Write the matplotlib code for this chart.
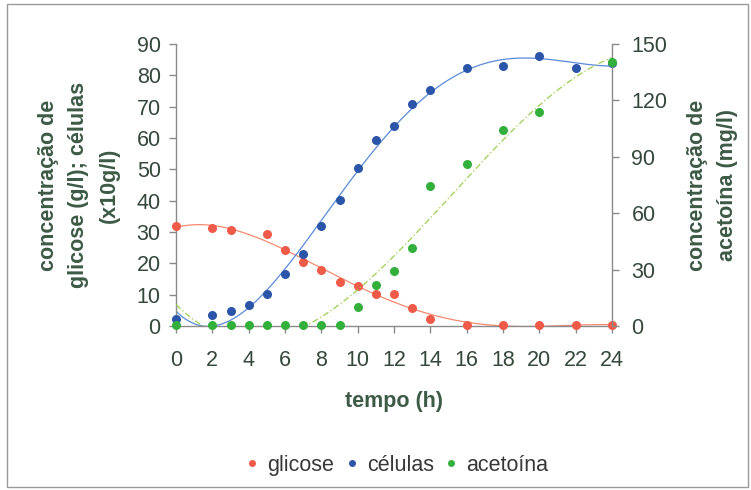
import numpy as np
import matplotlib
matplotlib.use("Agg")
import matplotlib.pyplot as plt
from matplotlib.lines import Line2D
from matplotlib.patches import Rectangle

# Fermentation time course: glucose, biomass and acetoin
t_glicose = [0, 2, 3, 5, 6, 7, 8, 9, 10, 11, 12, 13, 14, 16, 18, 20, 22, 24]
glicose = [31.8, 31.2, 30.7, 29.3, 24.2, 20.4, 18.0, 14.1, 12.9, 10.3, 10.3,
           5.9, 2.1, 0.3, 0.3, 0.3, 0.3, 0.3]

t_celulas = [0, 2, 3, 4, 5, 6, 7, 8, 9, 10, 11, 12, 13, 14, 16, 18, 20, 22, 24]
celulas = [2.1, 3.4, 4.7, 6.6, 10.3, 16.7, 22.9, 31.8, 40.2, 50.3, 59.3, 63.8,
           70.7, 75.3, 82.3, 83.0, 86.2, 82.3, 84.0]

t_acetoina = [0, 2, 3, 4, 5, 6, 7, 8, 9, 10, 11, 12, 13, 14, 16, 18, 20, 24]
acetoina = [0.5, 0.5, 0.5, 0.5, 0.5, 0.5, 0.5, 0.5, 0.5, 10.1, 21.6, 29.0,
            41.6, 74.3, 86.2, 104.0, 114.0, 140.6]

x_ticks = list(range(0, 25, 2))
left_ticks = list(range(0, 91, 10))
right_ticks = list(range(0, 151, 30))

plt.rcParams["font.family"] = ["Liberation Sans", "DejaVu Sans"]

RED, BLUE, GREEN = "#f05a48", "#2a55a8", "#33b03c"
RED_L, BLUE_L, GREEN_L = "#f58a70", "#5a8ad8", "#9ccf50"
TICK_C = "#34483b"
LABEL_C = "#3d5a46"
SPINE_C = "#8a8a8a"

fig = plt.figure(figsize=(7.51, 4.90), dpi=100)
ax = fig.add_axes([176 / 751, 1 - 326 / 490, (612 - 176) / 751, (326 - 44) / 490])
ax2 = ax.twinx()

# frame around the whole chart
fig.patches.append(Rectangle((7 / 751, 3 / 490), 741 / 751, 483 / 490,
                             transform=fig.transFigure, fill=False,
                             edgecolor="#9a9a9a", linewidth=1.0))


def trend(x, y, deg):
    coef = np.polyfit(x, y, deg)
    xs = np.linspace(0, 24, 400)
    return xs, np.polyval(coef, xs)


# polynomial trend lines
xs, ys = trend(t_glicose, glicose, 4)
ax.plot(xs, ys, color=RED_L, lw=0.9, zorder=2)
xs, ys = trend(t_celulas, celulas, 4)
ax.plot(xs, ys, color=BLUE_L, lw=0.9, zorder=2)
xs, ys = trend(t_acetoina, acetoina, 3)
ax2.plot(xs, ys, color=GREEN_L, lw=0.9, ls=(0, (5, 2, 1, 2)), zorder=2)

ms = 6.5
ax.plot(t_glicose, glicose, "o", color=RED, ms=ms, mew=0, clip_on=False, zorder=3)
ax.plot(t_celulas, celulas, "o", color=BLUE, ms=ms, mew=0, clip_on=False, zorder=3)
ax2.plot(t_acetoina, acetoina, "o", color=GREEN, ms=ms, mew=0, clip_on=False, zorder=3)

ax.set_xlim(0, 24)
ax.set_ylim(0, 90)
ax2.set_ylim(0, 150)
ax.set_xticks(x_ticks)
ax.set_yticks(left_ticks)
ax2.set_yticks(right_ticks)

for a in (ax, ax2):
    a.spines["top"].set_visible(False)
    for s in a.spines.values():
        s.set_color(SPINE_C)
        s.set_linewidth(1.0)
    a.patch.set_visible(False)
ax.spines["right"].set_visible(False)
ax2.spines["left"].set_visible(False)
ax2.spines["bottom"].set_visible(False)

ax.tick_params(axis="y", direction="out", length=5, width=1, color=SPINE_C,
               labelsize=15.5, labelcolor=TICK_C, pad=6)
ax.tick_params(axis="x", direction="out", length=5, width=1, color=SPINE_C,
               labelsize=15.5, labelcolor=TICK_C, pad=12)
ax2.tick_params(axis="y", direction="out", length=5, width=1, color=SPINE_C,
                labelsize=15.5, labelcolor=TICK_C, pad=9)

ax.set_xlabel("tempo (h)", fontsize=15.5, fontweight="bold", color=LABEL_C, labelpad=15)
ax.set_ylabel("concentração de\nglicose (g/l); células\n(x10g/l)", fontsize=15.5,
              fontweight="bold", color=LABEL_C, linespacing=1.6, labelpad=12)
ax2.set_ylabel("concentração de\nacetoína (mg/l)", fontsize=15.5,
               fontweight="bold", color=LABEL_C, linespacing=1.6,
               rotation=90, labelpad=14)

handles = [Line2D([], [], ls="none", marker="o", ms=5, color=c, mew=0)
           for c in (RED, BLUE, GREEN)]
fig.legend(handles, ["glicose", "células", "acetoína"], loc="center",
           bbox_to_anchor=(397 / 751, 1 - 465 / 490), ncol=3, frameon=False,
           fontsize=15.5, labelcolor="#383838", handlelength=0.6,
           handletextpad=0.4, columnspacing=0.5)

fig.savefig("out.png", dpi=100)
